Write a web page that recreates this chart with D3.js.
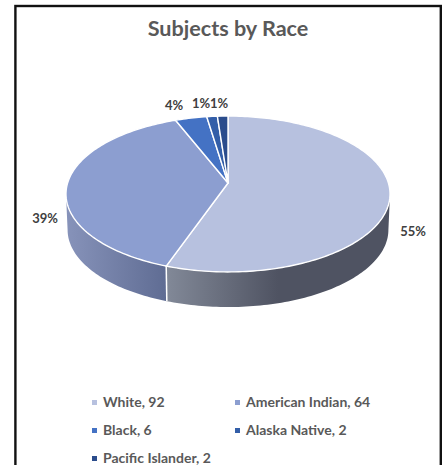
<!DOCTYPE html>
<html><head><meta charset="utf-8">
<script src="https://cdn.jsdelivr.net/npm/d3@7"></script>
<style>html,body{margin:0;padding:0;background:#fff;overflow:hidden}svg{display:block}</style>
</head><body><div id="c"></div>
<script>
const title = "Subjects by Race";
const categories = ["White","American Indian","Black","Alaska Native","Pacific Islander"];
const values = [92,64,6,2,2];
const percentLabels = ["55%","39%","4%","1%","1%"];
const colors = ["#b7c1df","#8c9ed0","#4472c4","#335ea8","#2b4c8c"];

const W=444,H=465;
const svg=d3.select("#c").append("svg").attr("width",W).attr("height",H);
const defs=svg.append("defs");
function grad(id,x1,x2,stops){
  const g=defs.append("linearGradient").attr("id",id).attr("gradientUnits","userSpaceOnUse")
    .attr("x1",x1).attr("x2",x2).attr("y1",0).attr("y2",0);
  stops.forEach(s=>g.append("stop").attr("offset",s[0]).attr("stop-color",s[1]));
}
grad("sideWhite",166,390,[[0,"#828998"],[0.5,"#4f5362"],[1,"#4f5362"]]);
grad("sideAmer",66,167,[[0,"#8793ba"],[1,"#5f6c93"]]);

svg.append("rect").attr("x",15.4).attr("y",6).attr("width",425.4).attr("height",470)
  .attr("fill","#fff").attr("stroke","#111").attr("stroke-width",2.4);

svg.append("text").attr("x",228).attr("y",36).attr("text-anchor","middle")
  .attr("font-family","Lato").attr("font-weight",700).attr("font-size",21.6).attr("fill","#595959").text(title);

// pie angles via d3.pie; a tilted-perspective projection of the disc
const pie=d3.pie().sort(null).value(d=>d)(values);
const k=0.141,Rx=160.4,Ry=76.4,ax=228,ay=183;
function proj(t,depth){
  const u=Math.sin(t),v=-Math.cos(t),den=1-k*v;
  const s=depth?0.99:1;
  return [ax+s*Rx*u/den, ay+(depth||0)+s*Ry*v/den];
}
const line=d3.line();
function arcPts(a0,a1,depth){
  const n=Math.max(2,Math.ceil((a1-a0)/0.02));
  return d3.range(n+1).map(i=>proj(a0+(a1-a0)*i/n,depth));
}
const depth=36;
const silR=Math.acos(-k), silL=2*Math.PI-silR;
const sideFills=["url(#sideWhite)","url(#sideAmer)"];
const g=svg.append("g");
pie.slice(0,2).forEach((p,i)=>{
  const a0=Math.max(p.startAngle,silR),a1=Math.min(p.endAngle,silL);
  const pts=arcPts(a0,a1,0).concat(arcPts(a0,a1,depth).reverse());
  g.append("path").attr("d",line(pts)+"Z").attr("fill",sideFills[i]).attr("stroke","none");
});
// seam between the two visible walls
const seam=pie[0].endAngle;
g.append("path").attr("d",line([proj(seam,0),proj(seam,depth)]))
  .attr("stroke","#fff").attr("stroke-width",1.5).attr("fill","none");

g.selectAll("path.top").data(pie).join("path").attr("class","top")
  .attr("d",p=>line([[ax,ay]].concat(arcPts(p.startAngle,p.endAngle,0)))+"Z")
  .attr("fill",(p,i)=>colors[i]).attr("stroke","#fff").attr("stroke-width",1.4).attr("stroke-linejoin","round");

const labelPos=[[413,236],[45,223],[174,110],[201,108],[219,108]];
svg.selectAll("text.pct").data(percentLabels).join("text").attr("class","pct")
  .attr("x",(d,i)=>labelPos[i][0]).attr("y",(d,i)=>labelPos[i][1]).attr("text-anchor","middle")
  .attr("font-family","Lato").attr("font-weight",700).attr("font-size",13).attr("fill","#404040").text(d=>d);

const legendPos=[[92,407],[235,407],[92,435],[235,435],[92,463]];
const lg=svg.selectAll("g.lg").data(categories).join("g").attr("class","lg")
  .attr("transform",(d,i)=>`translate(${legendPos[i][0]},${legendPos[i][1]})`);
lg.append("rect").attr("x",0).attr("y",-7).attr("width",5).attr("height",5).attr("fill",(d,i)=>colors[i]);
lg.append("text").attr("x",11).attr("y",0).attr("font-family","Lato").attr("font-weight",700)
  .attr("font-size",14).attr("fill","#595959").text((d,i)=>`${d}, ${values[i]}`);
</script></body></html>
